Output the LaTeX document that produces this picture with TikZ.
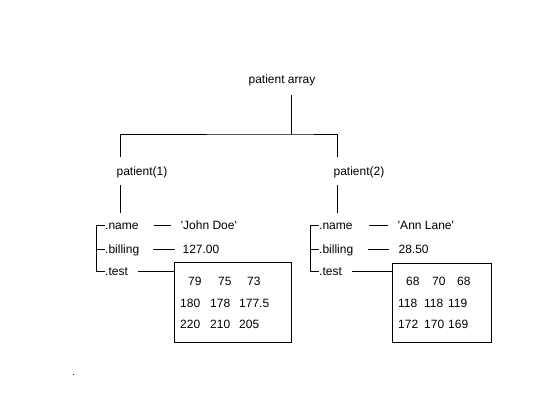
\documentclass[tikz,border=0pt]{standalone}
\usepackage{fontspec}
\newfontfamily\arialfont{Liberation Sans}
\usepackage{tikz}
\usetikzlibrary{calc,positioning}
\tikzset{
  txt_n/.style = {inner sep=0pt, text height=8pt, text depth=0pt, font=\arialfont\fontsize{12}{14}\selectfont},
  fld_n/.style = {txt_n, anchor=west},
  arr_box/.style = {draw, line width=1pt, inner sep=0pt, fill=white},
  link/.style = {line width=1pt}
}
\begin{document}
\begin{tikzpicture}[x=1pt, y=-1pt]
	\useasboundingbox (0,0) rectangle (560,420);
	\node [txt_n] (root) at (282,80) {patient array};
	\node [txt_n] (p1) at (142,171) {patient(1)};
	\node [txt_n] (p2) at (359,171) {patient(2)};
	\coordinate (fork) at (291,134);
	\draw [link] ([xshift=9pt,yshift=-11pt]root.south) -- (fork);
	\draw [link] ([xshift=4pt,yshift=10pt]p1.north west) |- (fork) -| ([xshift=4pt,yshift=10pt]p2.north west);

	\node [fld_n] (name1) at (105,225) {.name};
	\node [fld_n] (bill1) at (105,249) {.billing};
	\node [fld_n] (test1) at (105,271) {.test};
	\node [fld_n, right=42pt of name1] (nval1) {'John Doe'};
	\node [fld_n, right=43pt of bill1] (bval1) {127.00};
	\node [arr_box, minimum width=117pt, minimum height=80pt] (arr1) at (232.5,302) {};
	\foreach \v/\x/\y [count=\i] in {79/188/281, 75/218/281, 73/247/281, 180/180/303, 178/210/303, 177.5/239/303, 220/180/324, 210/210/324, 205/239/324}
		\node [fld_n] (a\i) at (\x,\y) {\v};

	\node [fld_n] (name2) at (319,225) {.name};
	\node [fld_n] (bill2) at (319,249) {.billing};
	\node [fld_n] (test2) at (319,271) {.test};
	\node [fld_n, right=45pt of name2] (nval2) {'Ann Lane'};
	\node [fld_n, right=45pt of bill2] (bval2) {28.50};
	\node [arr_box, minimum width=99pt, minimum height=79pt] (arr2) at (441.5,302.5) {};
	\foreach \v/\x/\y [count=\i] in {68/406/281, 70/432/281, 68/457/281, 118/398/303, 118/424/303, 119/448/303, 172/398/324, 170/424/324, 169/448/324}
		\node [fld_n] (b\i) at (\x,\y) {\v};

	\draw [link] ([xshift=4pt,yshift=-10pt]p1.south west) -- ++(0,-28pt);
	\draw [link] (name1.west) -- ++(-9pt,0) |- (test1.west);
	\draw [link] (bill1.west) -- ++(-9pt,0);
	\draw [link] ([xshift=15pt]name1.east) -- ([xshift=-10pt]nval1.west);
	\draw [link] ([xshift=14pt]bill1.east) -- ([xshift=-7pt]bval1.west);
	\draw [link] ([xshift=10pt]test1.east) -- (test1 -| arr1.west);

	\draw [link] ([xshift=4pt,yshift=-10pt]p2.south west) -- ++(0,-28pt);
	\draw [link] (name2.west) -- ++(-9pt,0) |- (test2.west);
	\draw [link] (bill2.west) -- ++(-9pt,0);
	\draw [link] ([xshift=16pt]name2.east) -- ([xshift=-10pt]nval2.west);
	\draw [link] ([xshift=15pt]bill2.east) -- ([xshift=-9pt]bval2.west);
	\draw [link] ([xshift=10pt]test2.east) -- (test2 -| arr2.west);

	\fill (73,374) rectangle ++(1.2pt,-1.2pt);
\end{tikzpicture}
\end{document}
